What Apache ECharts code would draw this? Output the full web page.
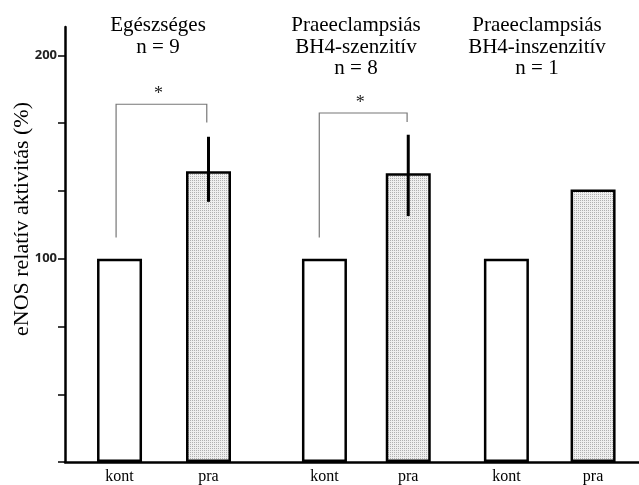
<!DOCTYPE html>
<html>
<head>
<meta charset="utf-8">
<script src="https://cdn.jsdelivr.net/npm/echarts@6/dist/echarts.min.js"></script>
<style>
  html, body { margin: 0; padding: 0; background: #fff; }
  #chart { width: 639px; height: 485px; }
</style>
</head>
<body>
<div id="chart"></div>
<script>
// adatok
const groupTitles = ['Egészséges\nn = 9', 'Praeeclampsiás\nBH4-szenzitív\nn = 8', 'Praeeclampsiás\nBH4-inszenzitív\nn = 1']
const barLabels = ['kont', 'pra', 'kont', 'pra', 'kont', 'pra']
const barPositions = [9.5, 25.0, 45.2, 59.8, 76.9, 92.0] // x tengely 0-100
const barValues = [100, 143, 100, 142, 100, 134]
const errorLow = [null, 128, null, 121, null, null]
const errorHigh = [null, 160, null, 161, null, null]
// szignifikancia: bal x, jobb x, bal alja, teteje, jobb alja
const brackets = [
  [8.9, 24.7, 110.5, 176, 167],
  [44.3, 59.6, 110.5, 171.7, 167.3]
]
const yTicks = [0, 33.3, 66.7, 100, 133.3, 166.7, 200]
const yLabels = [100, 200]

// pontozott kitöltés
const dots = document.createElement('canvas')
dots.width = 2
dots.height = 2
const ctx = dots.getContext('2d')
ctx.fillStyle = '#efefef'
ctx.fillRect(0, 0, 2, 2)
ctx.fillStyle = '#b0b0b0'
ctx.fillRect(0, 0, 1, 1)

const chart = echarts.init(document.getElementById('chart'))

const errorData = []
barValues.forEach((v, i) => {
  if (errorLow[i] != null) errorData.push([barPositions[i], errorLow[i], errorHigh[i]])
})

const option = {
  animation: false,
  grid: { left: 65, right: 0, top: 27, bottom: 21 },
  xAxis: {
    type: 'value',
    min: 0,
    max: 100,
    axisLine: { show: true, onZero: false, lineStyle: { color: '#000', width: 2.5 } },
    axisTick: { show: false },
    splitLine: { show: false },
    axisLabel: {
      customValues: barPositions,
      formatter: (v) => barLabels[barPositions.indexOf(v)],
      margin: 7,
      fontFamily: 'Liberation Serif',
      fontSize: 16,
      color: '#000'
    }
  },
  yAxis: {
    type: 'value',
    min: 0,
    max: 214,
    axisLine: { show: true, lineStyle: { color: '#000', width: 2.5 } },
    axisTick: { show: true, customValues: yTicks, length: 7, lineStyle: { color: '#000', width: 1.5 } },
    axisLabel: {
      customValues: yLabels,
      margin: 8,
      fontFamily: 'Open Sans',
      fontWeight: 'bold',
      fontSize: 13,
      color: '#222'
    },
    splitLine: { show: false }
  },
  graphic: [
    ...groupTitles.map((t, i) => ({
      type: 'text',
      x: [158, 356, 537][i],
      y: 15,
      style: {
        text: t,
        font: '21px "Liberation Serif"',
        lineHeight: 21.5,
        textAlign: 'center',
        textVerticalAlign: 'top',
        fill: '#000'
      }
    })),
    {
      type: 'text',
      x: 22,
      y: 219,
      rotation: Math.PI / 2,
      style: {
        text: 'eNOS relatív aktivitás (%)',
        font: '22px "Liberation Serif"',
        textAlign: 'center',
        textVerticalAlign: 'middle',
        fill: '#000'
      }
    }
  ],
  series: [
    {
      type: 'bar',
      barWidth: 45,
      data: barValues.map((v, i) => ({
        value: [barPositions[i], v],
        itemStyle: { color: i % 2 ? { image: dots, repeat: 'repeat' } : '#fff' }
      })),
      itemStyle: { borderColor: '#000', borderWidth: 2.5 }
    },
    {
      type: 'custom',
      z: 5,
      data: errorData,
      renderItem: (params, api) => {
        const lo = api.coord([api.value(0), api.value(1)])
        const hi = api.coord([api.value(0), api.value(2)])
        return {
          type: 'line',
          shape: { x1: lo[0], y1: lo[1], x2: hi[0], y2: hi[1] },
          style: { stroke: '#000', lineWidth: 3 }
        }
      }
    },
    {
      type: 'custom',
      z: 5,
      data: brackets,
      renderItem: (params, api) => {
        const a = api.coord([api.value(0), api.value(2)])
        const b = api.coord([api.value(0), api.value(3)])
        const c = api.coord([api.value(1), api.value(3)])
        const d = api.coord([api.value(1), api.value(4)])
        return {
          type: 'group',
          children: [
            {
              type: 'polyline',
              shape: { points: [a, b, c, d] },
              style: { stroke: '#777', lineWidth: 1.2, fill: null }
            },
            {
              type: 'text',
              x: (b[0] + c[0]) / 2 - 3,
              y: b[1] - 10,
              style: { text: '*', font: '18px "Liberation Serif"', textAlign: 'center', textVerticalAlign: 'middle', fill: '#222' }
            }
          ]
        }
      }
    }
  ]
}

chart.setOption(option)
</script>
</body>
</html>
